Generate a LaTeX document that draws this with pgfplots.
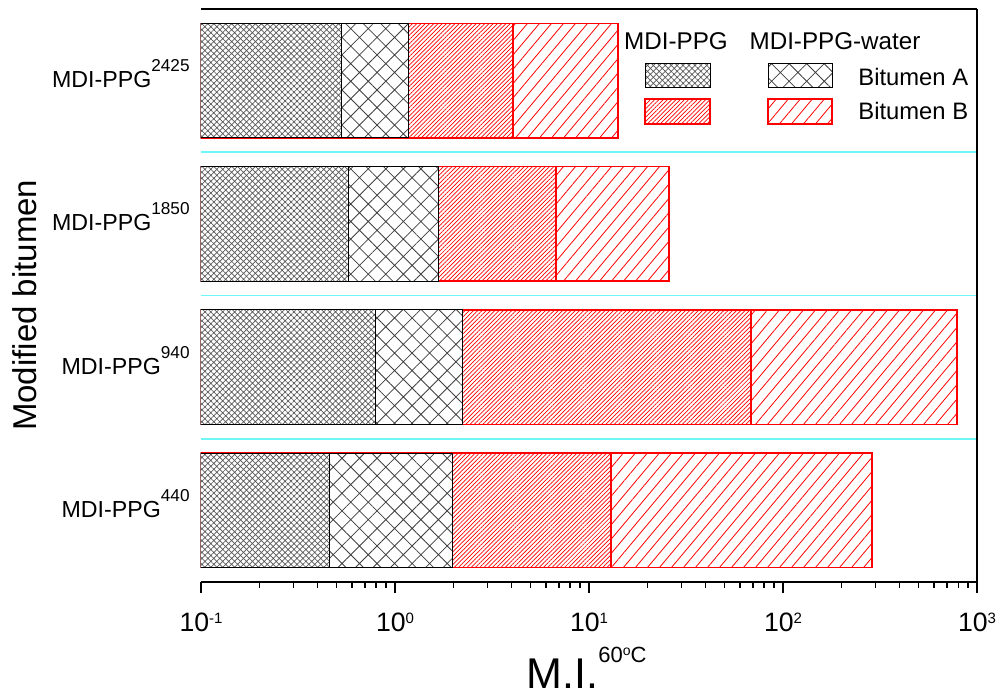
\documentclass[border=0pt]{standalone}
\usepackage{pgfplots}
\pgfplotsset{compat=1.18}
\usetikzlibrary{patterns.meta}
\usepackage{fontspec}
\setmainfont{Liberation Sans}

\definecolor{gridcyan}{RGB}{110,245,245}
\newcommand{\tl}[1]{10\raisebox{4.2pt}{\fontsize{7.5}{8}\selectfont #1}}
\newcommand{\cl}[1]{MDI-PPG\raisebox{8pt}{\fontsize{8.6}{9}\selectfont #1}}

\tikzset{
  densecross/.style={draw=black, line width=0.5pt, preaction={fill=white},
     pattern={Hatch[angle=45,distance=2.1pt,line width=0.35pt]}, pattern color=black!65},
  sparsecross/.style={draw=black, line width=0.5pt, preaction={fill=white},
     pattern={Hatch[angle=45,distance=6.2pt,line width=0.4pt]}, pattern color=black!75},
  densered/.style={draw=red, line width=0.7pt, preaction={fill=white},
     pattern={Lines[angle=45,distance=1.5pt,line width=0.35pt]}, pattern color=red},
  sparsered/.style={draw=red, line width=0.7pt, preaction={fill=white},
     pattern={Lines[angle=50,distance=4.6pt,line width=0.4pt]}, pattern color=red},
}

\begin{document}
\begin{tikzpicture}
\begin{axis}[name=ax, scale only axis, width=388pt, height=286.5pt,
  xmode=log, log basis x=10, xmin=0.1, xmax=1000, ymin=-0.5, ymax=3.5,
  log origin x=infty,
  xbar, bar width=0.8, bar shift=0pt,
  separate axis lines, y axis line style={draw=none},
  x axis line style={line width=1pt}, xtick pos=left,
  ytick={0,1,2,3},
  yticklabels={\cl{440},\cl{940},\cl{1850},\cl{2425}},
  ytick style={draw=none},
  yticklabel style={font=\fontsize{11.6}{13}\selectfont, inner sep=0pt, xshift=0pt, yshift=3.5pt},
  xtick={0.1,1,10,100,1000},
  xticklabels={\tl{-1},\tl{0},\tl{1},\tl{2},\tl{3}},
  minor xtick={0.2,0.3,0.4,0.5,0.6,0.7,0.8,0.9,2,3,4,5,6,7,8,9,20,30,40,50,60,70,80,90,200,300,400,500,600,700,800,900},
  xticklabel style={font=\fontsize{13.3}{15}\selectfont, yshift=-6.5pt},
  tick align=outside, major tick length=5.5pt, minor tick length=3pt,
  every tick/.style={black, line width=0.7pt},
  extra y ticks={0.5,1.5,2.5}, extra y tick labels={},
  extra y tick style={grid=major, major grid style={gridcyan, line width=0.9pt}, tick style={draw=none}},
  xlabel={M.I.\raisebox{13pt}{\fontsize{11}{13}\selectfont 60\raisebox{3.5pt}{\fontsize{7}{8}\selectfont o}C}},
  xlabel style={font=\fontsize{21.5}{24}\selectfont, at={(rel axis cs:0.497,-0.185)}, anchor=base, inner sep=0pt},
  ylabel={Modified bitumen},
  ylabel style={font=\fontsize{16.5}{19}\selectfont, at={(rel axis cs:-0.2113,0.483)}, anchor=south, inner sep=0pt},
]
% Bitumen B, MDI-PPG-water
\addplot[sparsered] coordinates {(288,0) (789,1) (25.8,2) (14.1,3)};
% Bitumen B, MDI-PPG
\addplot[densered] coordinates {(13.0,0) (68.4,1) (6.76,2) (4.06,3)};
% Bitumen A, MDI-PPG-water
\addplot[sparsecross] coordinates {(1.99,0) (2.24,1) (1.67,2) (1.18,3)};
% Bitumen A, MDI-PPG
\addplot[densecross] coordinates {(0.457,0) (0.789,1) (0.573,2) (0.527,3)};
\end{axis}
\begin{scope}[shift={(ax.south west)}, x=0.5pt, y=0.5pt]
  \draw[line width=1pt] (776,0) -- (776,573);
  \node[anchor=base, inner sep=0pt, font=\fontsize{12.1}{14}\selectfont] at (475,532) {MDI-PPG};
  \node[anchor=base, inner sep=0pt, font=\fontsize{12.1}{14}\selectfont] at (634,532) {MDI-PPG-water};
  \path[densecross] (444,494) rectangle (509,518);
  \path[sparsecross] (567,494) rectangle (631,518);
  \path[densered] (444,458) rectangle (509,483);
  \path[sparsered] (567,458) rectangle (631,483);
  \node[anchor=base west, inner sep=0pt, font=\fontsize{11.9}{14}\selectfont] at (657,496) {Bitumen A};
  \node[anchor=base west, inner sep=0pt, font=\fontsize{11.9}{14}\selectfont] at (657,462) {Bitumen B};
  \pgfresetboundingbox
  \path[use as bounding box] (-201,-113) rectangle (799,582);
\end{scope}
\end{tikzpicture}
\end{document}
